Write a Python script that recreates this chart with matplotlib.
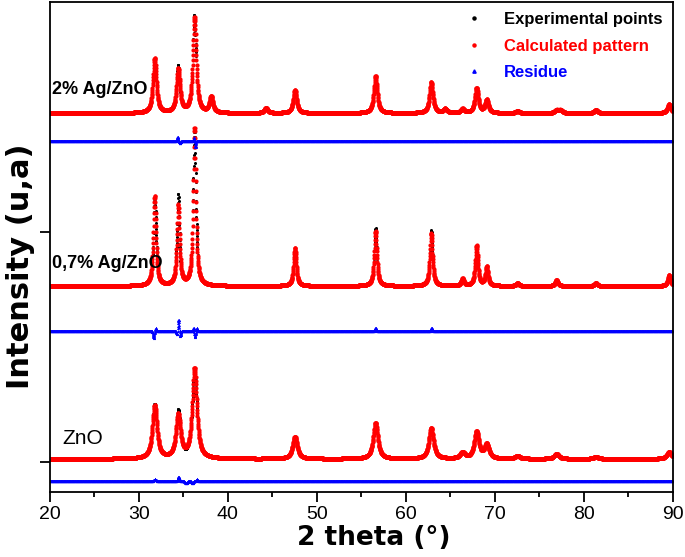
import matplotlib.pyplot as plt
import numpy as np
from matplotlib.lines import Line2D
from matplotlib.ticker import MultipleLocator

plt.rcParams['font.family'] = ['Liberation Sans', 'DejaVu Sans']

# ============================================================================
# Data (y in arbitrary stacked intensity units)
# ============================================================================

two_theta = np.arange(20.0, 90.0001, 0.02)

# reflections: ZnO wurtzite + Ag (38.1, 44.3, 64.4, 77.4)
peak_pos = [31.77, 34.42, 36.25, 38.12, 44.28, 47.54, 56.60, 62.86, 64.43,
            66.38, 67.96, 69.10, 72.56, 76.95, 77.40, 81.37, 89.61]

zno_height = [53, 43, 90, 0, 0, 22, 36, 31, 0, 6, 27, 14, 3, 5, 0, 2, 7]
ag07_height = [90, 80, 158, 0, 0, 38, 55, 53, 0, 7, 40, 19, 3, 6, 0, 3, 11]
ag2_height = [55, 44, 95, 16, 5, 23, 37, 31, 4, 4, 25, 13, 2, 3, 3, 3, 9]

zno_fwhm, ag07_fwhm, ag2_fwhm = 0.62, 0.36, 0.46

zno_base, ag07_base, ag2_base = 33, 206, 379
zno_res_base, ag07_res_base, ag2_res_base = 11, 161, 351

# residue features (position, amplitude, width)
zno_res = [(31.8, 1.5, 0.15), (34.45, 4, 0.12), (35.3, -2, 0.2), (36.0, -2, 0.15), (36.5, 1.5, 0.1)]
ag07_res = [(31.65, -7, 0.1), (31.9, 3, 0.08), (34.3, -4, 0.1), (34.45, 12, 0.1), (34.65, -5, 0.1),
            (36.15, 3, 0.08), (36.3, -6, 0.08), (36.5, 3, 0.08), (56.6, 3, 0.1), (62.9, 3, 0.1)]
ag2_res = [(34.35, 4, 0.1), (34.6, -2, 0.1), (36.2, 4, 0.06), (36.35, -6, 0.06)]


def pattern(heights, fwhm, base, eta=0.85):
    y = np.full_like(two_theta, float(base))
    for x0, h in zip(peak_pos, heights):
        if h == 0:
            continue
        d = (two_theta - x0) / fwhm
        lor = 1.0 / (1.0 + 4.0 * d ** 2)
        gau = np.exp(-4.0 * np.log(2) * d ** 2)
        y += h * (eta * lor + (1 - eta) * gau)
    return y


def residue(features):
    r = np.zeros_like(two_theta)
    for x0, a, w in features:
        r += a * np.exp(-((two_theta - x0) / w) ** 2)
    return r


fig = plt.figure(figsize=(6.85, 5.57), dpi=100)
ax = fig.add_axes([0.073, 0.117, 0.909, 0.879])

samples = [
    (zno_height, zno_fwhm, zno_base, zno_res, zno_res_base),
    (ag07_height, ag07_fwhm, ag07_base, ag07_res, ag07_res_base),
    (ag2_height, ag2_fwhm, ag2_base, ag2_res, ag2_res_base),
]

for heights, fwhm, base, res, res_base in samples:
    calc = pattern(heights, fwhm, base)
    r = residue(res)
    obs = calc + r
    ax.plot(two_theta, obs, ls='none', marker='o', ms=2.2, color='black', mew=0)
    ax.plot(two_theta, calc, ls='none', marker='o', ms=3.0, color='#ff0000', mew=0)
    ax.plot(two_theta, res_base + r, ls='none', marker='^', ms=2.2, color='#0000ff', mew=0)

ax.text(20.2, 403, '2% Ag/ZnO', fontsize=13, fontweight='bold', va='center')
ax.text(20.2, 229, '0,7% Ag/ZnO', fontsize=13, fontweight='bold', va='center')
ax.text(21.35, 53, 'ZnO', fontsize=15, va='center')

handles = [
    Line2D([], [], ls='none', marker='o', ms=2.2, color='black'),
    Line2D([], [], ls='none', marker='o', ms=2.2, color='#ff0000'),
    Line2D([], [], ls='none', marker='^', ms=2.4, color='#0000ff'),
]
ax.legend(handles, ['Experimental points', 'Calculated pattern', 'Residue'],
          loc='upper right', frameon=False, prop={'weight': 'bold', 'size': 12},
          labelcolor=['black', '#ff0000', '#0000ff'], handlelength=1.0,
          handletextpad=1.3, labelspacing=0.68, borderaxespad=0.2)

ax.set_xlim(20, 90)
ax.set_ylim(0, 490)
ax.xaxis.set_major_locator(MultipleLocator(10))
ax.xaxis.set_minor_locator(MultipleLocator(5))
ax.set_yticks([30, 260])
ax.set_yticklabels([])
ax.tick_params(axis='both', which='major', direction='out', length=7, width=1.3, labelsize=14)
ax.tick_params(axis='x', which='minor', direction='out', length=3.5, width=1.3)
for s in ax.spines.values():
    s.set_linewidth(1.3)

ax.set_xlabel('2 theta (°)', fontsize=19, fontweight='bold', family='DejaVu Sans')
ax.xaxis.set_label_coords(0.52, -0.068)
ax.set_ylabel('Intensity (u,a)', fontsize=22, fontweight='bold', family='DejaVu Sans')
ax.yaxis.set_label_coords(-15.5 / 623, 0.46)

fig.savefig('out.png', dpi=100)
